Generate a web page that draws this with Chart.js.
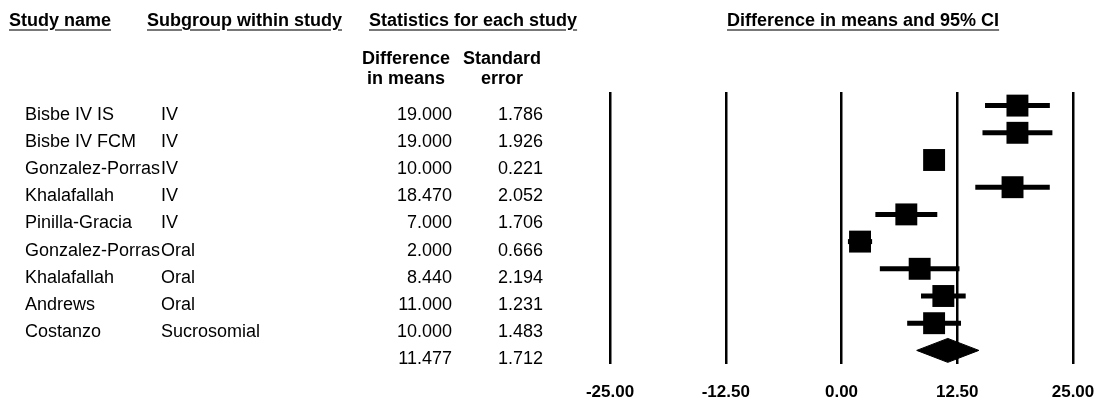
<!DOCTYPE html>
<html>
<head>
<meta charset="utf-8">
<script src="https://cdn.jsdelivr.net/npm/chart.js@4.4.1/dist/chart.umd.min.js"></script>
<style>
    html, body { margin: 0; padding: 0; background: #fff; }
    #wrap { position: relative; width: 1097px; height: 403px; overflow: hidden;
            font-family: "Liberation Sans", Arial, sans-serif; color: #000; }
    #forest { position: absolute; left: 0; top: 0; }
    .txt { position: absolute; white-space: nowrap; font-size: 18px; line-height: 20px; }
    .head { font-weight: bold; text-decoration: underline; text-decoration-color: #777;
            text-decoration-thickness: 1.5px; text-underline-offset: 3px; }
    .sub { font-weight: bold; text-align: center; line-height: 19.5px; width: 120px; }
    .num { text-align: right; width: 100px; }
</style>
</head>
<body>
<div id="wrap">
    <canvas id="forest" width="1097" height="403"></canvas>
</div>
<script>
// Study rows
const studyNames = ['Bisbe IV IS', 'Bisbe IV FCM', 'Gonzalez-Porras', 'Khalafallah', 'Pinilla-Gracia',
                    'Gonzalez-Porras', 'Khalafallah', 'Andrews', 'Costanzo'];
const subgroups = ['IV', 'IV', 'IV', 'IV', 'IV', 'Oral', 'Oral', 'Oral', 'Sucrosomial'];
const diffMeans = [19.000, 19.000, 10.000, 18.470, 7.000, 2.000, 8.440, 11.000, 10.000];
const stdErrors = [1.786, 1.926, 0.221, 2.052, 1.706, 0.666, 2.194, 1.231, 1.483];

// Pooled estimate
const overallDiff = 11.477;
const overallSe = 1.712;

// Axis
const xTicks = [-25, -12.5, 0, 12.5, 25];

const Z95 = 1.96;
const summaryRow = studyNames.length;
const diamondHalf = 0.44;   // half height of the diamond, in row units

const wrap = document.getElementById('wrap');

function addText(text, cls, left, top) {
    const el = document.createElement('div');
    el.className = 'txt ' + cls;
    el.textContent = text;
    el.style.left = left + 'px';
    el.style.top = top + 'px';
    wrap.appendChild(el);
    return el;
}

// Confidence interval bars, one dataset per study
const ciSets = diffMeans.map((d, i) => ({
    data: [{ x: d - Z95 * stdErrors[i], y: i }, { x: d + Z95 * stdErrors[i], y: i }],
    showLine: true,
    borderColor: '#000',
    borderWidth: 5,
    borderCapStyle: 'butt',
    pointRadius: 0,
    order: 2
}));

const lo = overallDiff - Z95 * overallSe;
const hi = overallDiff + Z95 * overallSe;

const chart = new Chart(document.getElementById('forest'), {
    type: 'scatter',
    data: {
        datasets: [
            {
                data: diffMeans.map((d, i) => ({ x: d, y: i })),
                pointStyle: 'rect',
                pointRadius: 15.5,
                backgroundColor: '#000',
                borderWidth: 0,
                order: 0
            },
            {
                data: [
                    { x: lo, y: summaryRow },
                    { x: overallDiff, y: summaryRow - diamondHalf },
                    { x: hi, y: summaryRow },
                    { x: overallDiff, y: summaryRow + diamondHalf },
                    { x: lo, y: summaryRow }
                ],
                showLine: true,
                fill: 'shape',
                backgroundColor: '#000',
                borderColor: '#000',
                borderWidth: 1,
                pointRadius: 0,
                order: 1
            },
            ...ciSets
        ]
    },
    options: {
        responsive: false,
        animation: false,
        events: [],
        layout: { padding: { left: 610, right: 24, top: 92, bottom: 1 } },
        plugins: {
            legend: { display: false },
            tooltip: { enabled: false }
        },
        scales: {
            x: {
                type: 'linear',
                min: -25,
                max: 25,
                afterBuildTicks: (scale) => {
                    scale.ticks = xTicks.map(v => ({ value: v }));
                },
                // keep the axis box tight: tick padding otherwise gets counted twice
                afterFit: (scale) => {
                    scale.height = 38;
                    scale.paddingLeft = 0;
                    scale.paddingRight = 0;
                },
                ticks: {
                    callback: (v) => Number(v).toFixed(2),
                    color: '#000',
                    font: { family: '"Liberation Sans", Arial, sans-serif', size: 17, weight: 'bold' },
                    padding: 18,
                    maxRotation: 0,
                    autoSkip: false
                },
                grid: { color: '#000', lineWidth: 2.5, drawTicks: false },
                border: { display: false }
            },
            y: {
                type: 'linear',
                min: -0.5,
                max: summaryRow + 0.5,
                reverse: true,
                display: false
            }
        }
    }
});

// Column headers
addText('Study name', 'head', 9, 10);
addText('Subgroup within study', 'head', 147, 10);
addText('Statistics for each study', 'head', 369, 10);
addText('Difference in means and 95% CI', 'head', 727, 10);

const sub1 = addText('', 'sub', 346, 49);
sub1.innerHTML = 'Difference<br>in means';
const sub2 = addText('', 'sub', 442, 49);
sub2.innerHTML = 'Standard<br>error';

// Table rows, placed on the chart's row scale
const yScale = chart.scales.y;
studyNames.forEach((name, i) => {
    const top = yScale.getPixelForValue(i) - 2;
    addText(name, '', 25, top);
    addText(subgroups[i], '', 161, top);
    addText(diffMeans[i].toFixed(3), 'num', 452 - 100, top);
    addText(stdErrors[i].toFixed(3), 'num', 543 - 100, top);
});
const sumTop = yScale.getPixelForValue(summaryRow) - 2;
addText(overallDiff.toFixed(3), 'num', 452 - 100, sumTop);
addText(overallSe.toFixed(3), 'num', 543 - 100, sumTop);
</script>
</body>
</html>
